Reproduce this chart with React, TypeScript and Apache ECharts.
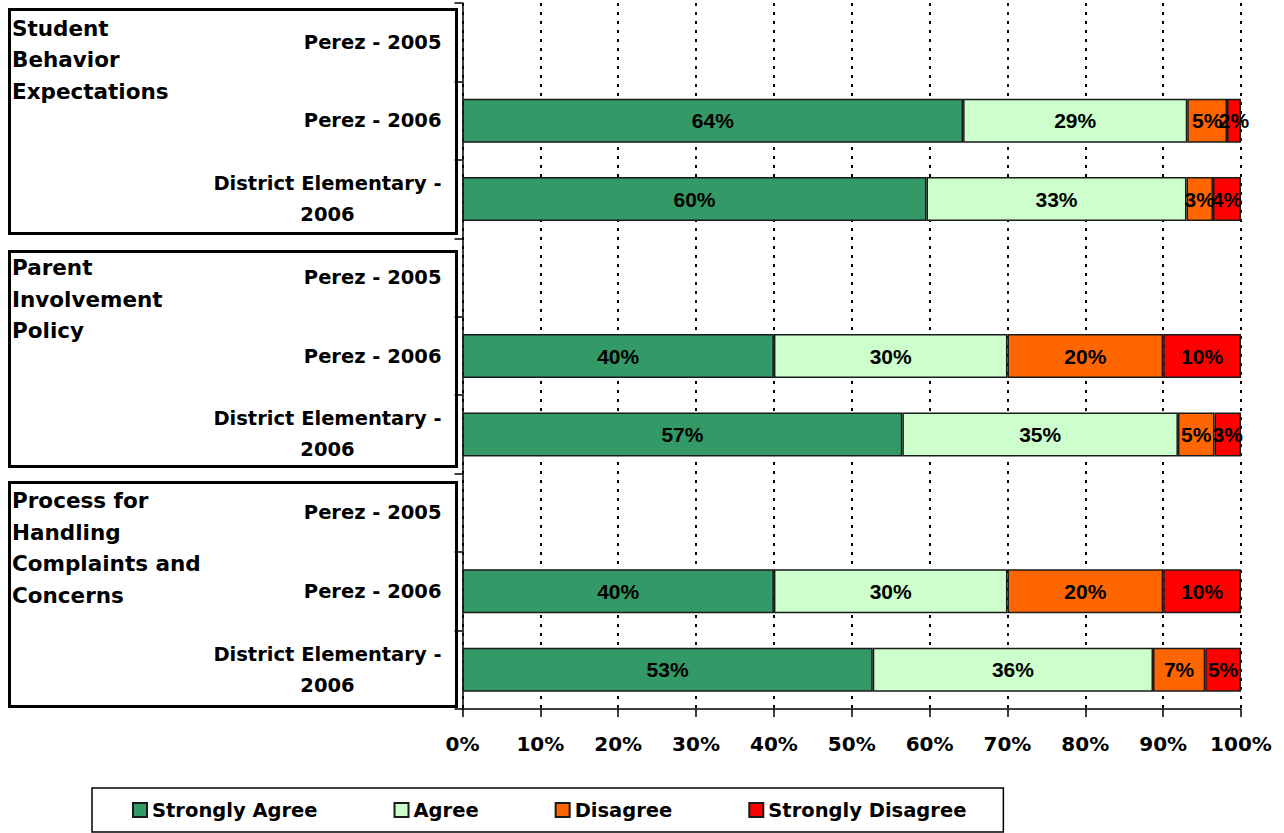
import React, { useEffect, useRef } from "react";
import * as echarts from "echarts";

const rowLabels = [
  "Perez - 2005",
  "Perez - 2006",
  "District Elementary -\n2006",
  "Perez - 2005",
  "Perez - 2006",
  "District Elementary -\n2006",
  "Perez - 2005",
  "Perez - 2006",
  "District Elementary -\n2006",
];
const groupLabels = [
  "Student\nBehavior\nExpectations",
  "Parent\nInvolvement\nPolicy",
  "Process for\nHandling\nComplaints and\nConcerns",
];
const seriesNames = ["Strongly Agree", "Agree", "Disagree", "Strongly Disagree"];
const stronglyAgree = [null, 64.3, 59.6, null, 40, 56.5, null, 40, 52.7];
const agree = [null, 28.8, 33.4, null, 30, 35.4, null, 30, 36.0];
const disagree = [null, 5.1, 3.4, null, 20, 4.7, null, 20, 6.7];
const stronglyDisagree = [null, 1.8, 3.6, null, 10, 3.4, null, 10, 4.6];
const xTicks = [0, 100, 10];

const colors = ["#339966", "#CCFFCC", "#FF6600", "#FF0000"];
const FONT = 'Arial, "Liberation Sans", sans-serif';
const WIDE = '"DejaVu Sans", Verdana, sans-serif';

export default function App() {
  const ref = useRef<HTMLDivElement>(null);
  useEffect(() => {
    document.body.style.margin = "0";
    const chart = echarts.init(ref.current!, null, { renderer: "svg" });
    const values = [stronglyAgree, agree, disagree, stronglyDisagree];
    const boxes = [
      { y: 9, h: 224, ty: 12.5 },
      { y: 251, h: 215, ty: 252 },
      { y: 482, h: 224, ty: 485 },
    ];
    const graphics: any[] = [];
    boxes.forEach((b, i) => {
      graphics.push({
        type: "rect",
        shape: { x: 9.5, y: b.y + 0.5, width: 447, height: b.h },
        style: { fill: "none", stroke: "#000", lineWidth: 3 },
        silent: true,
      });
      graphics.push({
        type: "text",
        x: 12,
        y: b.ty,
        style: {
          text: groupLabels[i],
          fill: "#000",
          font: `bold 21.5px ${WIDE}`,
          lineHeight: 31.5,
          textVerticalAlign: "top",
        },
        silent: true,
      });
    });

    chart.setOption({
      animation: false,
      backgroundColor: "#fff",
      grid: { left: 462.5, right: 43, top: 3, bottom: 124, containLabel: false },
      legend: {
        left: 92,
        top: 788,
        orient: "horizontal",
        padding: [12, 37, 12, 40],
        itemGap: 76,
        itemWidth: 14,
        itemHeight: 14,
        icon: "rect",
        borderColor: "#000",
        borderWidth: 1.5,
        data: seriesNames,
        textStyle: { fontFamily: WIDE, fontWeight: "bold", fontSize: 19.5, color: "#000" },
      },
      xAxis: {
        type: "value",
        min: xTicks[0],
        max: xTicks[1],
        interval: xTicks[2],
        axisLine: { show: true, lineStyle: { color: "#000", width: 1.5 } },
        axisTick: { show: true, length: 8, lineStyle: { color: "#000", width: 1.5 } },
        axisLabel: {
          formatter: "{value}%",
          fontFamily: WIDE,
          fontWeight: "bold",
          fontSize: 20,
          color: "#000",
          margin: 25,
        },
        splitLine: { show: true, lineStyle: { color: "#000", type: [3, 6], width: 2 } },
      },
      yAxis: {
        type: "category",
        inverse: true,
        data: rowLabels,
        axisLine: { show: true, lineStyle: { color: "#000", width: 1.5 } },
        axisTick: { show: true, length: 8, lineStyle: { color: "#000", width: 1.5 } },
        axisLabel: {
          interval: 0,
          fontFamily: WIDE,
          fontWeight: "bold",
          fontSize: 19.5,
          color: "#000",
          margin: 21,
          lineHeight: 31,
          formatter: (v: string) => {
            if (v.indexOf("\n") < 0) return v;
            const parts = v.split("\n");
            return `{a|${parts[0]}}\n{c|${parts[1]}}`;
          },
          rich: {
            a: { fontFamily: WIDE, fontWeight: "bold", fontSize: 19.5, color: "#000", lineHeight: 31 },
            c: { fontFamily: WIDE, fontWeight: "bold", fontSize: 19.5, color: "#000", lineHeight: 31, align: "center" },
          },
        },
        splitLine: { show: false },
      },
      series: seriesNames.map((name, i) => ({
        name,
        type: "bar",
        stack: "total",
        barWidth: 44,
        data: values[i],
        itemStyle: { color: colors[i], borderColor: "#1a1a1a", borderWidth: 1.5 },
        label: {
          show: true,
          position: "inside",
          formatter: (p: any) => (p.value == null ? "" : Math.round(p.value) + "%"),
          fontFamily: FONT,
          fontWeight: "bold",
          fontSize: 21,
          color: "#000",
        },
        emphasis: { disabled: true },
      })),
      graphic: graphics,
    });
    return () => chart.dispose();
  }, []);
  return (
    <div
      ref={ref}
      style={{ position: "fixed", left: 0, top: 0, width: 1284, height: 833 }}
    />
  );
}
